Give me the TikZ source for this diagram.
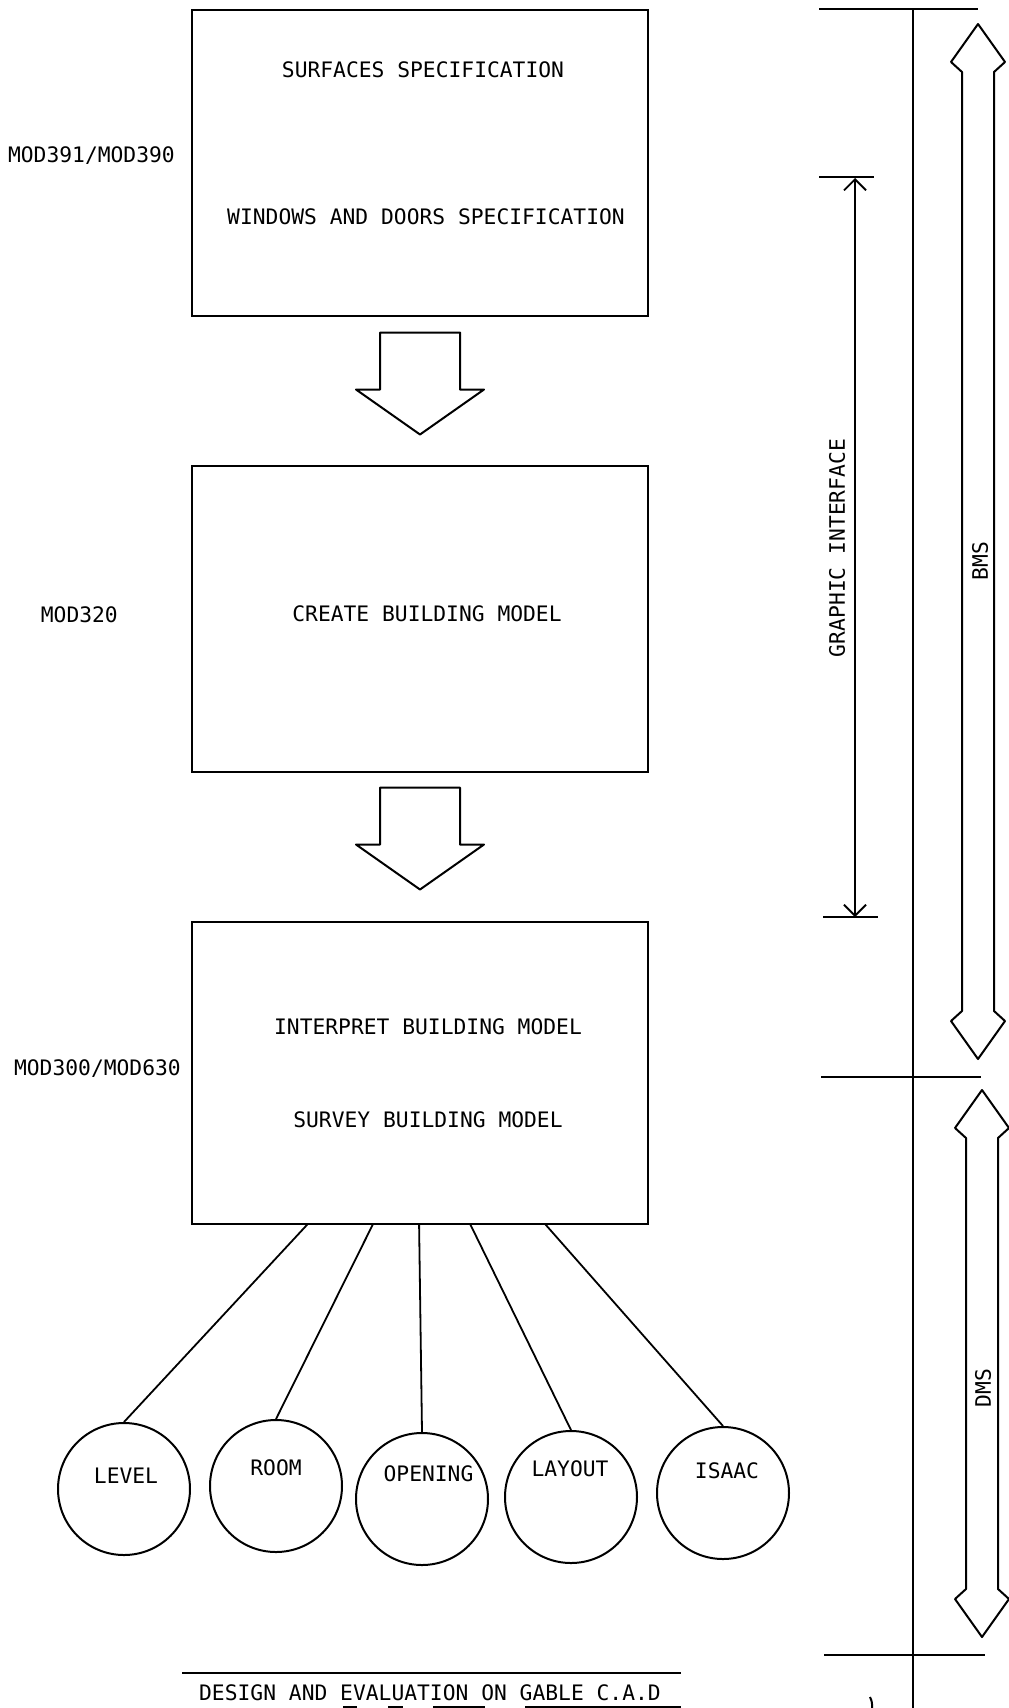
\documentclass[tikz,border=0pt]{standalone}
\usepackage{fontspec}
\newfontfamily\plotter{DejaVu Sans Mono}
\usepackage{tikz}
\usetikzlibrary{positioning, arrows.meta, calc}
\tikzset{
  ln/.style={draw=black, line width=2pt, line join=round},
  modbox/.style={
    draw=black, line width=2pt, rectangle,
    minimum width=456pt, minimum height=306pt, inner sep=0pt,
  },
  unit/.style={draw=black, line width=2pt, circle, minimum size=132pt, inner sep=0pt},
  tag/.style={font=\plotter\fontsize{21.3}{25}\selectfont, inner sep=0pt},
  spoke/.style={draw=black, line width=1.8pt},
  dim/.style={draw=black, line width=1.8pt,
    {Straight Barb[length=11pt,width=22pt]}-{Straight Barb[length=11pt,width=22pt]}},
}
% hollow arrow between two module boxes, #1 = top middle of the shaft
\newcommand{\blockdown}[1]{%
  \draw[ln] #1 ++(-40,0) -- ++(80,0) -- ++(0,57) -- ++(24,0)
    -- ++(-64,45) -- ++(-64,-45) -- ++(24,0) -- cycle;}
% hollow double arrow: #1 = x, #2 = top tip, #3 = bottom tip
\newcommand{\twoway}[3]{%
  \draw[ln] (#1,#2) -- ++(27,38) -- ++(-11,10) -- (#1+16,#3-48)
    -- ++(11,10) -- (#1,#3) -- ++(-27,-38) -- ++(11,-10)
    -- (#1-16,#2+48) -- ++(-11,-10) -- cycle;}

\begin{document}
\begin{tikzpicture}[x=1pt, y=-1pt]
\useasboundingbox (0,0) rectangle (1009,1708);

% module boxes
\node[modbox] (b1) at (420,162.5) {};
\node[modbox, below=148pt of b1] (b2) {};
\node[modbox, minimum height=302pt, below=148pt of b2] (b3) {};

\node[tag] (surf) at ([xshift=3pt,yshift=92.5pt]b1.center) {SURFACES SPECIFICATION};
\node[tag] (wind) at ([xshift=6pt,yshift=-54.5pt]b1.center) {WINDOWS AND DOORS SPECIFICATION};
\node[tag] (create) at ([xshift=7pt,yshift=4.5pt]b2.center) {CREATE BUILDING MODEL};
\node[tag] (interp) at ([xshift=8pt,yshift=46pt]b3.center) {INTERPRET BUILDING MODEL};
\node[tag] (survey) at ([xshift=8pt,yshift=-47pt]b3.center) {SURVEY BUILDING MODEL};

\node[tag, left=16pt of b1, yshift=7pt] (m1) {MOD391/MOD390};
\node[tag, left=73pt of b2, yshift=4pt] (m2) {MOD320};
\node[tag, left=10pt of b3, yshift=4pt] (m3) {MOD300/MOD630};

\blockdown{([yshift=-16pt]b1.south)}
\blockdown{([yshift=-15pt]b2.south)}

% entities below the model
\node[unit] (level) at (124,1489) {};
\node[unit] (room) at (276,1486) {};
\node[unit] (opening) at (422,1499) {};
\node[unit] (layout) at (571,1497) {};
\node[unit] (isaac) at (723,1493) {};

\node[tag] (tlevel) at ([xshift=2pt,yshift=13pt]level.center) {LEVEL};
\node[tag] (troom) at ([yshift=18pt]room.center) {ROOM};
\node[tag] (topening) at ([xshift=6.5pt,yshift=25pt]opening.center) {OPENING};
\node[tag] (tlayout) at ([xshift=-1pt,yshift=28pt]layout.center) {LAYOUT};
\node[tag] (tisaac) at ([xshift=4pt,yshift=22.5pt]isaac.center) {ISAAC};

\coordinate (s1) at ($(b3.south west)!0.254!(b3.south east)$);
\coordinate (s2) at ($(b3.south west)!0.397!(b3.south east)$);
\coordinate (s3) at ($(b3.south west)!0.498!(b3.south east)$);
\coordinate (s4) at ($(b3.south west)!0.610!(b3.south east)$);
\coordinate (s5) at ($(b3.south west)!0.774!(b3.south east)$);

\draw[spoke] (s1) -- (level.north);
\draw[spoke] (s2) -- (room.north);
\draw[spoke] (s3) -- (opening.north);
\draw[spoke] (s4) -- (layout.north);
\draw[spoke] (s5) -- (isaac.north);

% title at the foot
\draw[ln] (182,1673) -- (681,1673);
\node[tag] (title) at (430,1693) {DESIGN AND EVALUATION ON GABLE C.A.D};
\draw[ln] (343,1707) -- (357,1707) (388,1707) -- (403,1707)
          (433,1707) -- (485,1707) (525,1707) -- (681,1707);

% right hand scale
\draw[ln] (913,9) -- (913,1708);
\draw[ln] (819,9) -- (978,9);
\draw[ln] (821,1077) -- (981,1077);
\draw[ln] (824,1655) -- (985,1655);
\draw[ln] (819,177) -- (874,177);
\draw[ln] (823,917) -- (878,917);
\draw[dim] (855,178) -- (855,917);
\node[tag, rotate=90] (gi) at (837,548) {GRAPHIC INTERFACE};

\twoway{978}{24}{1059}
\twoway{982}{1090}{1637}
\node[tag, rotate=90] (bms) at (980,561) {BMS};
\node[tag, rotate=90] (dms) at (983,1388) {DMS};

\draw[ln] (870,1697) to[bend left=15] (872,1708);

\end{tikzpicture}
\end{document}
